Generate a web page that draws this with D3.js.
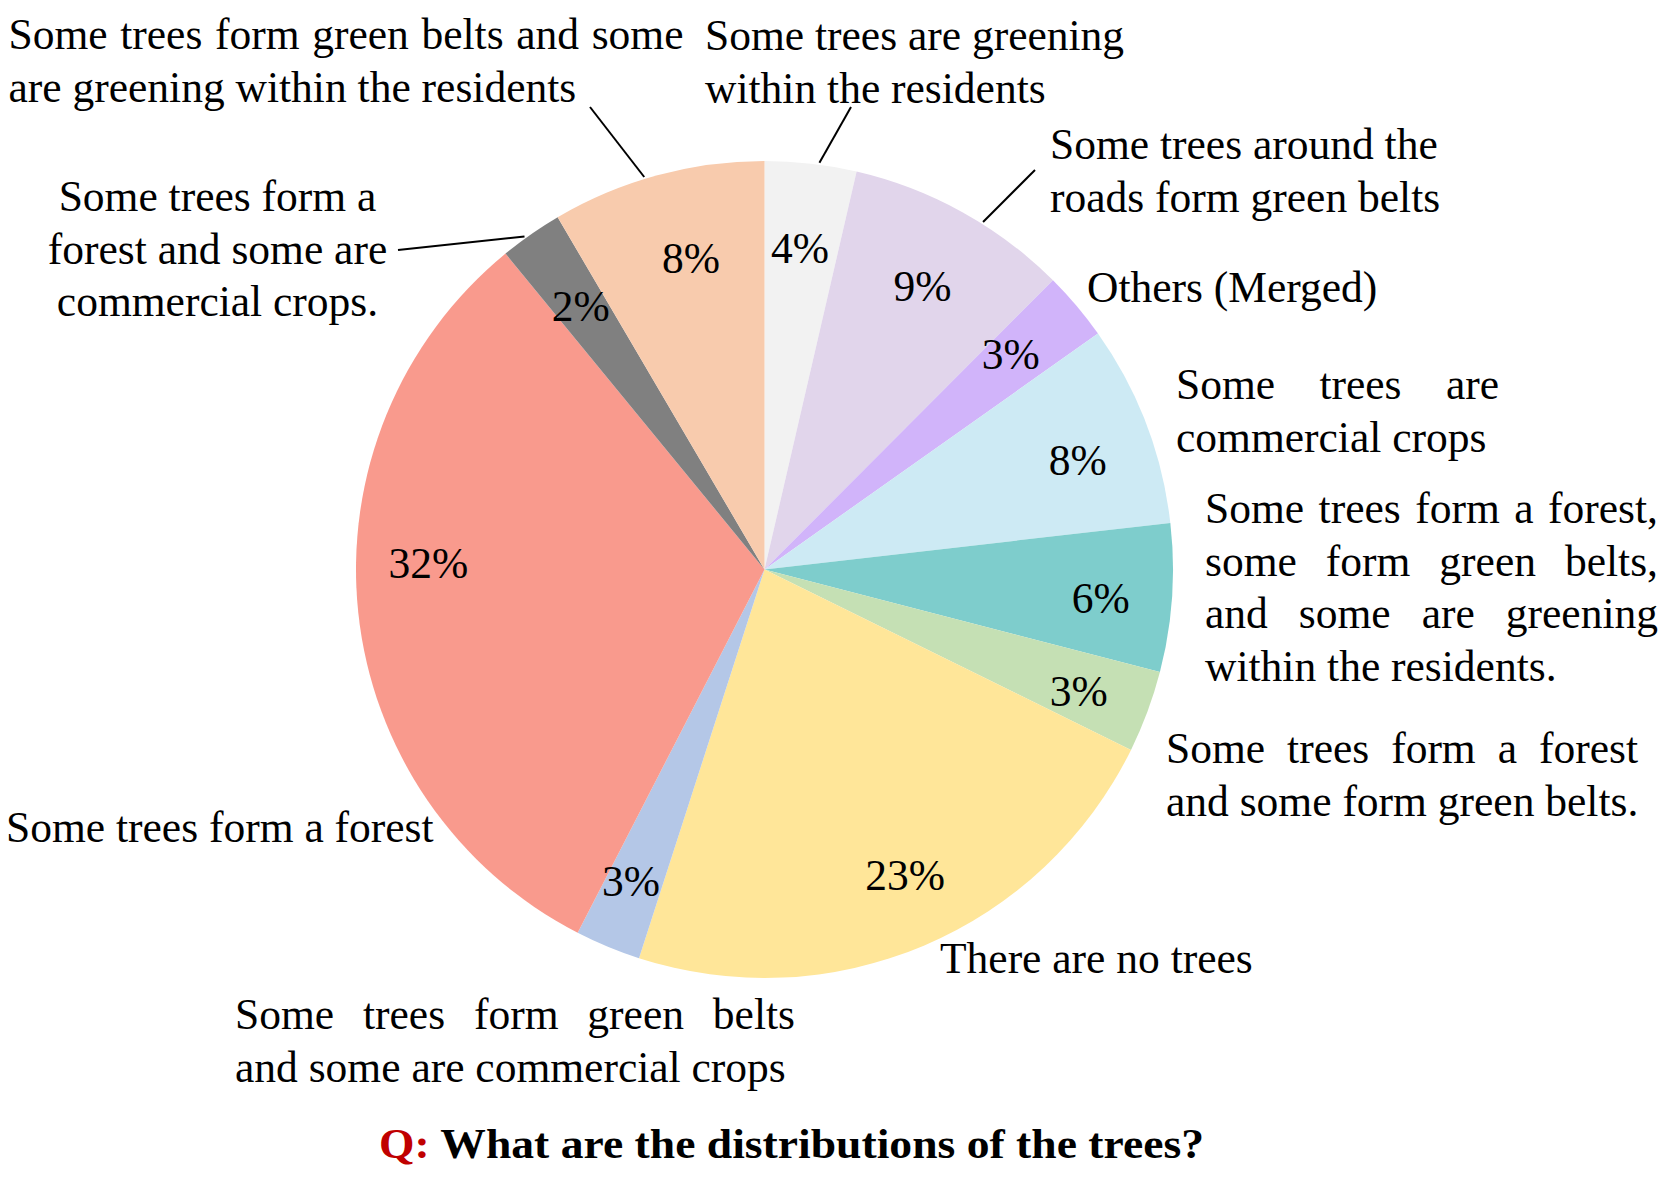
<!DOCTYPE html>
<html>
<head>
<meta charset="utf-8">
<script src="https://cdn.jsdelivr.net/npm/d3@7"></script>
<style>
  body { margin: 0; background: #fff; }
  text { font-family: "Liberation Serif", "Times New Roman", serif; fill: #000; }
</style>
</head>
<body>
<div id="chart"></div>
<script>
// slices, clockwise from 12 o'clock
const categories = [
  ["Some trees are greening", "within the residents"],
  ["Some trees around the", "roads form green belts"],
  ["Others (Merged)"],
  ["Some trees are", "commercial crops"],
  ["Some trees form a forest,", "some form green belts,", "and some are greening", "within the residents."],
  ["Some trees form a forest", "and some form green belts."],
  ["There are no trees"],
  ["Some trees form green belts", "and some are commercial crops"],
  ["Some trees form a forest"],
  ["Some trees form a", "forest and some are", "commercial crops."],
  ["Some trees form green belts and some", "are greening within the residents"]
];
const shares = [3.62, 8.86, 2.72, 7.98, 5.86, 3.24, 22.69, 2.59, 31.51, 2.48, 8.45];
const pctLabels = ["4%", "9%", "3%", "8%", "6%", "3%", "23%", "3%", "32%", "2%", "8%"];
const colors = ["#f2f2f2", "#e1d5eb", "#d1b4fa", "#cdeaf4", "#7ecdcc", "#c5e0b4",
                "#ffe699", "#b4c7e7", "#f99a8d", "#808080", "#f8cbad"];
const question = "What are the distributions of the trees?";

// small nudges of the percent labels off the centroid
const pctNudge = [[-2, 2], [-2, 1], [-6, -7], [5, 4], [7, 1], [5, 2], [12, -3], [-7, 2], [-8, -46], [5, 3], [13, 2]];

// where each category label sits (first baseline), justified width, leader start + where on the slice edge it lands
const labelLayout = [
  { x: 705, y: 50, anchor: "start", leader: [851, 107], at: 0.59 },
  { x: 1050, y: 159, anchor: "start", leader: [1035, 170], at: 0.6 },
  { x: 1087, y: 302, anchor: "start" },
  { x: 1176, y: 399, anchor: "start", justify: 323 },
  { x: 1205, y: 523, anchor: "start", justify: 453 },
  { x: 1166, y: 763, anchor: "start", justify: 472 },
  { x: 940, y: 973, anchor: "start" },
  { x: 235, y: 1029, anchor: "start", justify: 560 },
  { x: 6, y: 842, anchor: "start" },
  { x: 217.5, y: 211, anchor: "middle", leader: [398, 250], at: 0.4 },
  { x: 8.5, y: 49, anchor: "start", justify: 675, leader: [590, 107], at: 0.44 }
];

const W = 1673, H = 1180;
const cx = 764.5, cy = 569.5, R = 408.5;
const fontSize = 43.5, lineH = 52.5;

const svg = d3.select("#chart").append("svg")
  .attr("width", W).attr("height", H);

const data = shares.map((v, i) => ({ value: v, i }));
const pie = d3.pie().sort(null).value(d => d.value);
const arcs = pie(data);
const arc = d3.arc().innerRadius(0).outerRadius(R);
const labelArc = d3.arc().innerRadius(330).outerRadius(330);

const g = svg.append("g").attr("transform", `translate(${cx},${cy})`);

g.selectAll("path.slice")
  .data(arcs)
  .enter().append("path")
  .attr("class", "slice")
  .attr("d", arc)
  .attr("fill", d => colors[d.data.i]);

g.selectAll("text.pct")
  .data(arcs)
  .enter().append("text")
  .attr("class", "pct")
  .attr("transform", d => {
    const [x, y] = labelArc.centroid(d);
    const n = pctNudge[d.data.i];
    return `translate(${x + n[0]},${y + n[1]})`;
  })
  .attr("text-anchor", "middle")
  .attr("dy", "0.45em")
  .style("font-size", fontSize + "px")
  .text(d => pctLabels[d.data.i]);

// leader lines: from label to the slice edge
arcs.forEach(d => {
  const lay = labelLayout[d.data.i];
  if (!lay.leader) return;
  const a = d.startAngle + (d.endAngle - d.startAngle) * lay.at;
  svg.append("line")
    .attr("x1", lay.leader[0]).attr("y1", lay.leader[1])
    .attr("x2", cx + Math.sin(a) * (R + 2))
    .attr("y2", cy - Math.cos(a) * (R + 2))
    .attr("stroke", "#000")
    .attr("stroke-width", 2);
});

// category labels
categories.forEach((lines, i) => {
  const lay = labelLayout[i];
  lines.forEach((line, k) => {
    const t = svg.append("text")
      .attr("x", lay.x)
      .attr("y", lay.y + k * lineH)
      .attr("text-anchor", lay.anchor)
      .style("font-size", fontSize + "px")
      .text(line);
    // justify every line but the last one
    if (lay.justify && k < lines.length - 1) {
      const gaps = line.split(" ").length - 1;
      const natural = t.node().getComputedTextLength();
      if (gaps > 0) t.style("word-spacing", ((lay.justify - natural) / gaps) + "px");
    }
  });
});

// question under the pie
const title = svg.append("text")
  .attr("x", 379).attr("y", 1158)
  .attr("textLength", 825)
  .attr("lengthAdjust", "spacingAndGlyphs")
  .style("font-size", "43px")
  .style("font-weight", "bold");
title.append("tspan").style("fill", "#c00000").text("Q: ");
title.append("tspan").text(question);
</script>
</body>
</html>
